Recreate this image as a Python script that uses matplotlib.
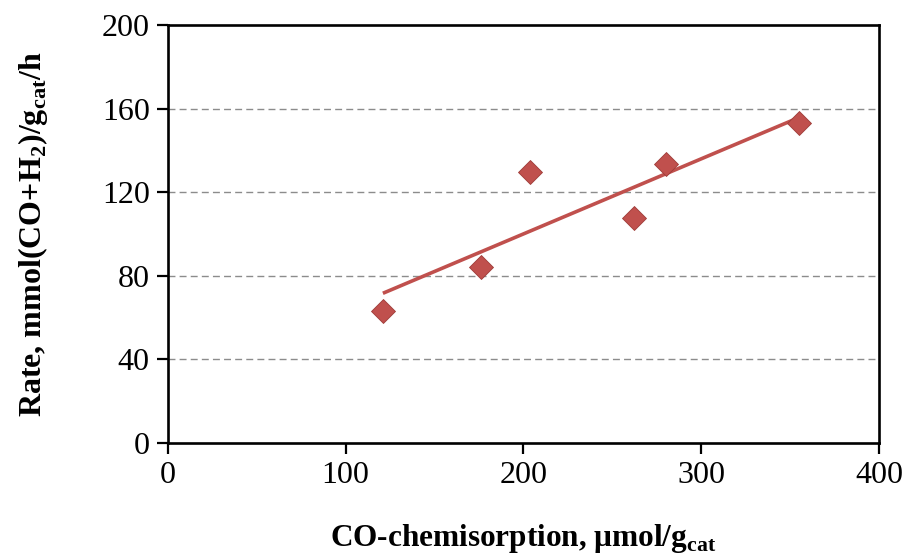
import numpy as np
import matplotlib.pyplot as plt

# CO-chemisorption vs. rate
co_chem = [121, 176, 204, 262, 280, 355]
rate = [63.3, 84.3, 129.6, 107.5, 133.4, 153.3]

x_ticks = [0, 100, 200, 300, 400]
y_ticks = [0, 40, 80, 120, 160, 200]

red = '#C0504D'

plt.rcParams['font.family'] = 'Liberation Serif'
plt.rcParams['mathtext.fontset'] = 'custom'
plt.rcParams['mathtext.rm'] = 'Liberation Serif'
plt.rcParams['mathtext.bf'] = 'Liberation Serif:bold'

fig = plt.figure(figsize=(9.07, 5.58), dpi=100)
ax = fig.add_axes([0.185, 0.2066, 0.784, 0.748])

# linear trend line
k, b = np.polyfit(co_chem, rate, 1)
xs = np.array([min(co_chem), max(co_chem)])
ax.plot(xs, k * xs + b, color=red, lw=2.6, solid_capstyle='butt', zorder=3)
ax.plot(co_chem, rate, 'D', color=red, ms=12, mec='#9E3B38', mew=0.6, zorder=4)

ax.set_xlim(0, 400)
ax.set_ylim(0, 200)
ax.set_xticks(x_ticks)
ax.set_yticks(y_ticks)
for y in y_ticks[1:-1]:
    ax.axhline(y, color='#8c8c8c', lw=1.0, ls=(0, (5, 3)), zorder=1)

for s in ax.spines.values():
    s.set_linewidth(1.9)
ax.tick_params(direction='out', length=8, width=1.6, labelsize=23, pad=5)

ax.set_xlabel(r'CO-chemisorption, μmol/g$_\mathbf{cat}$', fontsize=22.5, fontweight='bold', labelpad=23)
ax.set_ylabel(r'Rate, mmol(CO+H$_\mathbf{2}$)/g$_\mathbf{cat}$/h', fontsize=23, fontweight='bold', labelpad=37)

fig.savefig('out.png', dpi=100)
